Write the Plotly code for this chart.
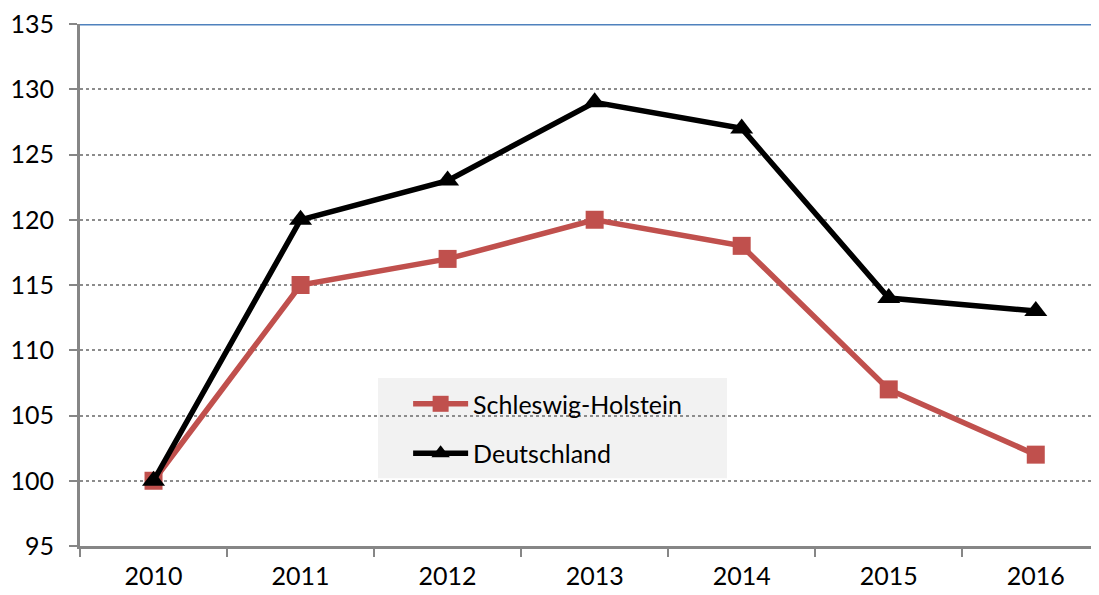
import plotly.graph_objects as go

years = ["2010", "2011", "2012", "2013", "2014", "2015", "2016"]
schleswig_holstein = [100, 115, 117, 120, 118, 107, 102]
deutschland = [100, 120, 123, 129, 127, 114, 113]

fig = go.Figure()

fig.add_trace(go.Scatter(
    x=years, y=schleswig_holstein, name="Schleswig-Holstein",
    mode="lines+markers", legendgroup="sh",
    line=dict(color="#C0504D", width=5.5),
    marker=dict(symbol="square", size=18, color="#C0504D")
))
fig.add_trace(go.Scatter(
    x=years, y=deutschland, name="Deutschland",
    mode="lines+markers", legendgroup="de",
    line=dict(color="#000000", width=5.5),
    marker=dict(symbol="triangle-up", size=20, color="#000000")
))

# blue top border line at 135
fig.add_shape(type="line", xref="paper", yref="y", x0=0, x1=1, y0=135, y1=135,
              line=dict(color="#4F81BD", width=3))
# legend background box
fig.add_shape(type="rect", xref="paper", yref="paper",
              x0=0.2924, x1=0.635, y0=0.130, y1=0.322,
              fillcolor="#F2F2F2", line=dict(width=0), layer="below")

fig.update_layout(
    width=1091, height=587,
    margin=dict(l=72, r=0, t=16, b=49),
    plot_bgcolor="white", paper_bgcolor="white",
    font=dict(family="Lato, Open Sans, sans-serif", size=25, color="black"),
    showlegend=True,
    legend=dict(
        x=0.322, y=0.316, xanchor="left", yanchor="top",
        bgcolor="rgba(0,0,0,0)", font=dict(size=25),
        itemwidth=55, traceorder="grouped", tracegroupgap=14,
    ),
    xaxis=dict(
        type="category", range=[-0.5, 6.43], automargin=False,
        tickson="boundaries", ticks="outside", ticklen=8, tickwidth=2, tickcolor="#868686",
        ticklabelstandoff=6,
        showline=True, linecolor="#868686", linewidth=3,
        showgrid=False, zeroline=False,
    ),
    yaxis=dict(
        range=[95, 135], dtick=5, automargin=False, ticklabeloverflow="allow",
        ticks="outside", ticklen=8, tickwidth=2, tickcolor="#868686",
        ticklabelstandoff=10,
        showline=True, linecolor="#868686", linewidth=3,
        showgrid=True, gridcolor="#8C8C8C", griddash="dot", gridwidth=2,
        zeroline=False,
    ),
)

fig.write_html("out.html")
